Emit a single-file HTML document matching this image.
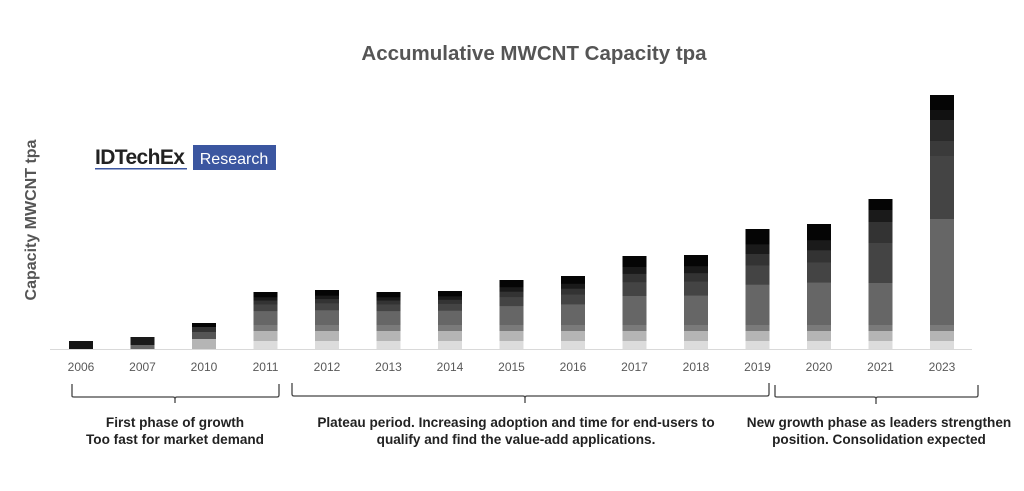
<!DOCTYPE html>
<html><head><meta charset="utf-8"><style>
body{margin:0;background:#fff;}
svg{display:block;font-family:"Liberation Sans",sans-serif;}
.a{fill:#050505}.b{fill:#1a1a1a}.c{fill:#333}.d{fill:#444}.e{fill:#666}.f{fill:#7a7a7a}.g{fill:#b5b5b5}.h{fill:#dcdcdc}
</style></head><body>
<svg width="1024" height="491" viewBox="0 0 1024 491" xmlns="http://www.w3.org/2000/svg">
<rect width="1024" height="491" fill="#fff"/>
<text x="534" y="60" text-anchor="middle" font-size="20.5" font-weight="bold" fill="#555">Accumulative MWCNT Capacity tpa</text>
<text transform="translate(36,220) rotate(-90)" text-anchor="middle" font-size="16" font-weight="bold" fill="#555">Capacity MWCNT tpa</text>
<text x="95" y="164" font-size="21" font-weight="bold" fill="#222" letter-spacing="-0.6">IDTechEx</text>
<rect x="95" y="168" width="92" height="1.5" fill="#3b56a0"/>
<rect x="193" y="145" width="83" height="25" fill="#3b56a0"/>
<text x="234" y="164" text-anchor="middle" font-size="16" fill="#fff">Research</text>
<line x1="50" y1="349.5" x2="972" y2="349.5" stroke="#d9d9d9" stroke-width="1"/>

<rect x="69" y="341" width="24" height="8" fill="#151515"/>
<rect x="130.5" y="337" width="24" height="12" fill="#1a1a1a"/>
<rect x="130.5" y="345" width="24" height="4" fill="#666"/>
<g transform="translate(192,0)">
<rect y="323" width="24" height="26" class="a"/><rect y="327" width="24" height="22" class="c"/><rect y="332" width="24" height="17" fill="#555"/><rect y="339" width="24" height="10" class="g"/></g>

<g transform="translate(253.5,0)"><rect y="292" width="24" height="57" class="a"/><rect y="297.3" width="24" height="51.7" class="b"/><rect y="300.6" width="24" height="48.4" class="c"/><rect y="304.5" width="24" height="44.5" class="d"/><rect y="311.1" width="24" height="37.9" class="e"/><rect y="325" width="24" height="24" class="f"/><rect y="331" width="24" height="18" class="g"/><rect y="341" width="24" height="8" class="h"/></g>
<g transform="translate(315,0)"><rect y="290" width="24" height="59" class="a"/><rect y="295.6" width="24" height="53.4" class="b"/><rect y="299.1" width="24" height="49.9" class="c"/><rect y="303.3" width="24" height="45.7" class="d"/><rect y="310.3" width="24" height="38.7" class="e"/><rect y="325" width="24" height="24" class="f"/><rect y="331" width="24" height="18" class="g"/><rect y="341" width="24" height="8" class="h"/></g>
<g transform="translate(376.5,0)"><rect y="292" width="24" height="57" class="a"/><rect y="297.3" width="24" height="51.7" class="b"/><rect y="300.6" width="24" height="48.4" class="c"/><rect y="304.5" width="24" height="44.5" class="d"/><rect y="311.1" width="24" height="37.9" class="e"/><rect y="325" width="24" height="24" class="f"/><rect y="331" width="24" height="18" class="g"/><rect y="341" width="24" height="8" class="h"/></g>
<g transform="translate(438,0)"><rect y="291" width="24" height="58" class="a"/><rect y="296.4" width="24" height="52.6" class="b"/><rect y="299.8" width="24" height="49.2" class="c"/><rect y="303.9" width="24" height="45.1" class="d"/><rect y="310.7" width="24" height="38.3" class="e"/><rect y="325" width="24" height="24" class="f"/><rect y="331" width="24" height="18" class="g"/><rect y="341" width="24" height="8" class="h"/></g>
<g transform="translate(499.5,0)"><rect y="280" width="24" height="69" class="a"/><rect y="287.2" width="24" height="61.8" class="b"/><rect y="291.7" width="24" height="57.3" class="c"/><rect y="297.1" width="24" height="51.9" class="d"/><rect y="306.1" width="24" height="42.9" class="e"/><rect y="325" width="24" height="24" class="f"/><rect y="331" width="24" height="18" class="g"/><rect y="341" width="24" height="8" class="h"/></g>
<g transform="translate(561,0)"><rect y="276" width="24" height="73" class="a"/><rect y="283.8" width="24" height="65.2" class="b"/><rect y="288.7" width="24" height="60.3" class="c"/><rect y="294.6" width="24" height="54.4" class="d"/><rect y="304.4" width="24" height="44.6" class="e"/><rect y="325" width="24" height="24" class="f"/><rect y="331" width="24" height="18" class="g"/><rect y="341" width="24" height="8" class="h"/></g>
<g transform="translate(622.5,0)"><rect y="256" width="24" height="93" class="a"/><rect y="267" width="24" height="82" class="b"/><rect y="273.9" width="24" height="75.1" class="c"/><rect y="282.2" width="24" height="66.8" class="d"/><rect y="296" width="24" height="53" class="e"/><rect y="325" width="24" height="24" class="f"/><rect y="331" width="24" height="18" class="g"/><rect y="341" width="24" height="8" class="h"/></g>
<g transform="translate(684,0)"><rect y="255" width="24" height="94" class="a"/><rect y="266.2" width="24" height="82.8" class="b"/><rect y="273.2" width="24" height="75.8" class="c"/><rect y="281.6" width="24" height="67.4" class="d"/><rect y="295.6" width="24" height="53.4" class="e"/><rect y="325" width="24" height="24" class="f"/><rect y="331" width="24" height="18" class="g"/><rect y="341" width="24" height="8" class="h"/></g>
<g transform="translate(745.5,0)"><rect y="229" width="24" height="120" class="a"/><rect y="244.4" width="24" height="104.6" class="b"/><rect y="254" width="24" height="95" class="c"/><rect y="265.5" width="24" height="83.5" class="d"/><rect y="284.7" width="24" height="64.3" class="e"/><rect y="325" width="24" height="24" class="f"/><rect y="331" width="24" height="18" class="g"/><rect y="341" width="24" height="8" class="h"/></g>
<g transform="translate(807,0)"><rect y="224" width="24" height="125" class="a"/><rect y="240.2" width="24" height="108.8" class="b"/><rect y="250.3" width="24" height="98.7" class="c"/><rect y="262.4" width="24" height="86.6" class="d"/><rect y="282.6" width="24" height="66.4" class="e"/><rect y="325" width="24" height="24" class="f"/><rect y="331" width="24" height="18" class="g"/><rect y="341" width="24" height="8" class="h"/></g>
<g transform="translate(868.5,0)"><rect y="199" width="24" height="150" class="a"/><rect y="210" width="24" height="139" class="b"/><rect y="222" width="24" height="127" class="c"/><rect y="243" width="24" height="106" class="d"/><rect y="283" width="24" height="66" class="e"/><rect y="325" width="24" height="24" class="f"/><rect y="331" width="24" height="18" class="g"/><rect y="341" width="24" height="8" class="h"/></g>
<g transform="translate(930,0)"><rect y="95" width="24" height="254" class="a"/><rect y="110" width="24" height="239" fill="#111"/><rect y="120" width="24" height="229" fill="#2a2a2a"/><rect y="141" width="24" height="208" fill="#3a3a3a"/><rect y="156" width="24" height="193" class="d"/><rect y="219" width="24" height="130" class="e"/><rect y="325" width="24" height="24" class="f"/><rect y="331" width="24" height="18" class="g"/><rect y="341" width="24" height="8" class="h"/></g>

<g font-size="12" fill="#595959" text-anchor="middle">
<text x="81" y="371">2006</text><text x="142.5" y="371">2007</text><text x="204" y="371">2010</text><text x="265.5" y="371">2011</text><text x="327" y="371">2012</text><text x="388.5" y="371">2013</text><text x="450" y="371">2014</text><text x="511.5" y="371">2015</text><text x="573" y="371">2016</text><text x="634.5" y="371">2017</text><text x="696" y="371">2018</text><text x="757.5" y="371">2019</text><text x="819" y="371">2020</text><text x="880.5" y="371">2021</text><text x="942" y="371">2023</text>
</g>
<g fill="none" stroke="#444" stroke-width="1.3">
<path d="M72,384 V396 Q72,397 74,397 H173 Q175,397 175,399 V403 M175,399 Q175,397 177,397 H277 Q279,397 279,395 V384"/>
<path d="M292,383 V394 Q292,396 294,396 H523 Q525,396 525,398 V403 M525,398 Q525,396 527,396 H767 Q769,396 769,394 V383"/>
<path d="M775,385 V396 Q775,397 777,397 H874 Q876,397 876,399 V404 M876,399 Q876,397 878,397 H976 Q978,397 978,395 V385"/>
</g>
<g font-size="13.6" font-weight="bold" fill="#222" text-anchor="middle">
<text x="175" y="427">First phase of growth</text>
<text x="175" y="444">Too fast for market demand</text>
<text x="516" y="427">Plateau period. Increasing adoption and time for end-users to</text>
<text x="516" y="444">qualify and find the value-add applications.</text>
<text x="879" y="427">New growth phase as leaders strengthen</text>
<text x="879" y="444">position. Consolidation expected</text>
</g>
</svg>
</body></html>
